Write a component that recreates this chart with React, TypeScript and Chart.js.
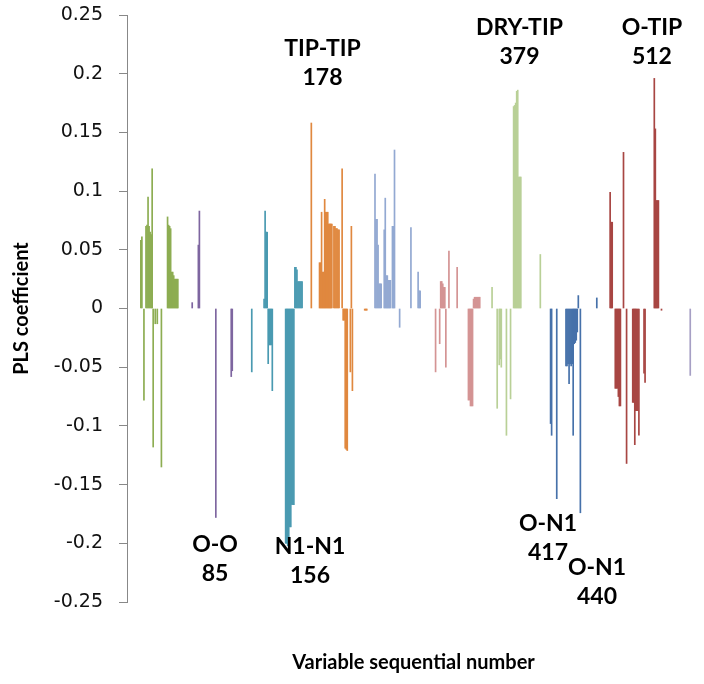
import React, { useEffect, useRef } from "react";
import { Chart, registerables } from "chart.js";

Chart.register(...registerables);

// ---- Y axis tick labels ----
const yTicks = [0.25, 0.2, 0.15, 0.1, 0.05, 0, -0.05, -0.1, -0.15, -0.2, -0.25];

// ---- Series: variable numbers and PLS coefficients per GRIND block ----
const dryDryVars = [12, 13, 15, 17, 18, 19, 20, 21, 22, 23, 24, 26, 28, 32, 38, 39, 40, 41, 42, 43, 44, 45, 46, 47, 48];
const dryDryCoefs = [0.058, 0.061, -0.078, 0.07, 0.071, 0.095, 0.07, 0.065, 0.063, 0.119, -0.118, -0.013, -0.013, -0.135, 0.078, 0.071, 0.07, 0.068, 0.031, 0.031, 0.028, 0.025, 0.025, 0.025, 0.025];

const ooVars = [62, 68, 69, 85, 100, 101];
const ooCoefs = [0.005, 0.054, 0.083, -0.178, -0.058, -0.053];

const n1n1Vars = [120, 132, 133, 134, 135, 136, 137, 138, 139, 140, 153, 154, 155, 156, 157, 158, 159, 160, 161, 162, 163, 164, 165, 166, 167, 168, 169];
const n1n1Coefs = [-0.054, 0.008, 0.083, 0.065, 0.065, -0.047, -0.031, -0.031, -0.031, -0.07, -0.2, -0.2, -0.202, -0.203, -0.186, -0.186, -0.167, -0.167, -0.167, 0.035, 0.035, 0.033, 0.023, 0.023, 0.023, 0.023, 0.023];

const tipTipVars = [178, 186, 187, 188, 189, 190, 191, 192, 193, 194, 195, 196, 197, 198, 200, 201, 202, 203, 204, 205, 208, 209, 210, 211, 212, 213, 216, 217, 218, 230, 231, 232];
const tipTipCoefs = [0.158, 0.039, 0.039, 0.082, 0.031, 0.031, 0.093, 0.082, 0.082, 0.082, 0.072, 0.072, 0.072, 0.072, 0.07, 0.07, 0.068, 0.068, 0.067, 0.067, 0.119, -0.01, -0.01, -0.119, -0.12, -0.121, -0.054, 0.07, -0.07, -0.0015, -0.0015, -0.0015];

const dryOVars = [240, 241, 242, 243, 244, 245, 246, 249, 250, 251, 252, 253, 254, 255, 257, 258, 259, 264, 275, 282, 283, 284];
const dryOCoefs = [0.1145, 0.076, 0.076, 0.054, 0.021, 0.021, 0.021, 0.067, 0.094, 0.028, 0.028, 0.024, 0.024, 0.024, 0.07, 0.07, 0.135, -0.016, 0.069, 0.031, 0.015, 0.015];

const dryN1Vars = [299, 303, 304, 305, 306, 307, 308, 309, 312, 320, 331, 332, 333, 334, 335, 336, 337, 338, 339, 340, 341, 342];
const dryN1Coefs = [-0.054, -0.03, 0.023, 0.023, 0.021, 0.018, 0.018, -0.05, 0.049, 0.035, -0.078, -0.078, -0.083, -0.083, -0.083, 0.008, 0.0096, 0.0096, 0.0096, 0.0096, 0.0096, 0.0096];

const dryTipVars = [354, 359, 361, 362, 363, 368, 372, 375, 376, 377, 378, 379, 380, 381, 382, 401];
const dryTipCoefs = [0.018, -0.085, -0.048, -0.043, -0.05, -0.108, -0.077, 0.172, 0.173, 0.175, 0.185, 0.186, 0.112, 0.112, 0.112, 0.046];

const oN1Vars = [411, 412, 417, 426, 427, 428, 429, 430, 431, 432, 433, 434, 435, 436, 437, 438, 440, 456];
const oN1Coefs = [-0.098, -0.108, -0.162, -0.049, -0.049, -0.047, -0.064, -0.047, -0.049, -0.047, -0.108, -0.03, -0.029, -0.027, -0.02, 0.011, -0.174, 0.009];

const oTipVars = [469, 470, 471, 474, 475, 476, 477, 478, 479, 482, 485, 491, 492, 493, 494, 495, 496, 497, 502, 503, 512, 513, 514, 515, 516, 519];
const oTipCoefs = [0.099, 0.0735, 0.0735, -0.068, -0.068, -0.068, -0.075, -0.083, -0.083, 0.133, -0.132, -0.08, -0.08, -0.116, -0.087, -0.087, -0.087, -0.108, -0.055, -0.063, 0.196, 0.153, 0.092, 0.092, 0.092, -0.0015];

const n1TipVars = [547];
const n1TipCoefs = [-0.057];

// ---- Block labels and colours ----
const blockNames = ["DRY-DRY", "O-O", "N1-N1", "TIP-TIP", "DRY-O", "DRY-N1", "DRY-TIP", "O-N1", "O-TIP", "N1-TIP"];
const blockColors = ["#8DAD52", "#7E66A0", "#4A9AB1", "#E0883F", "#93A9D2", "#D49494", "#B9D097", "#4671AA", "#A84643", "#A69FC4"];
const blockVars = [dryDryVars, ooVars, n1n1Vars, tipTipVars, dryOVars, dryN1Vars, dryTipVars, oN1Vars, oTipVars, n1TipVars];
const blockCoefs = [dryDryCoefs, ooCoefs, n1n1Coefs, tipTipCoefs, dryOCoefs, dryN1Coefs, dryTipCoefs, oN1Coefs, oTipCoefs, n1TipCoefs];

// ---- Annotated variables (text, number, anchor in data units) ----
const noteNames = ["TIP-TIP", "DRY-TIP", "O-TIP", "O-O", "N1-N1", "O-N1", "O-N1"];
const noteNumbers = ["178", "379", "512", "85", "156", "417", "440"];
const noteX = [188.9, 380.7, 509.7, 84.2, 176.7, 408.5, 456.2];
const noteY = [0.2217, 0.2396, 0.2396, -0.2008, -0.2025, -0.1829, -0.2204];

const noteFont = "bold 23px Lato";
const noteLineGap = 29;

const notesPlugin = {
  id: "notes",
  afterDatasetsDraw(chart: any) {
    const { ctx, scales } = chart;
    const xs = scales.x;
    const ys = scales.y;
    ctx.save();
    ctx.font = noteFont;
    ctx.fillStyle = "#000";
    ctx.textAlign = "center";
    ctx.textBaseline = "middle";
    for (let i = 0; i < noteNames.length; i++) {
      const px = xs.getPixelForValue(noteX[i]);
      const py = ys.getPixelForValue(noteY[i]);
      ctx.fillText(noteNames[i], px, py);
      ctx.fillText(noteNumbers[i], px, py + noteLineGap);
    }
    ctx.restore();
  },
};

export default function App() {
  const ref = useRef<HTMLCanvasElement | null>(null);

  useEffect(() => {
    if (!ref.current) return;
    const datasets = blockNames.map((name, b) => ({
      label: name,
      data: blockVars[b].map((v, i) => ({ x: v, y: blockCoefs[b][i] })),
      backgroundColor: blockColors[b],
      borderWidth: 0,
      barPercentage: 1,
      categoryPercentage: 1,
      grouped: false,
    }));

    const chart = new Chart(ref.current, {
      type: "bar",
      data: { datasets },
      options: {
        animation: false,
        responsive: false,
        maintainAspectRatio: false,
        devicePixelRatio: 1,
        events: [],
        layout: { padding: { left: 0, right: 4, top: 15, bottom: 0 } },
        plugins: {
          legend: { display: false },
          tooltip: { enabled: false },
          title: { display: false },
        },
        scales: {
          x: {
            type: "linear",
            min: -1.5,
            max: 556.5,
            offset: false,
            grid: { display: false, drawTicks: false, offset: false },
            border: { display: false },
            ticks: { display: false, stepSize: 100 },
            title: {
              display: true,
              text: "Variable sequential number",
              color: "#000",
              font: { family: "Lato", weight: "bold", size: 20, lineHeight: 1.2 },
              padding: { top: 49, bottom: 9 },
            },
          },
          y: {
            min: -0.25,
            max: 0.25,
            afterFit: (scale: any) => {
              scale.width = 127;
              scale.paddingTop = 0;
              scale.paddingBottom = 0;
            },
            afterBuildTicks: (scale: any) => {
              scale.ticks = yTicks.map((v) => ({ value: v }));
            },
            ticks: {
              padding: 16,
              color: "#111",
              font: { family: "DejaVu Sans", size: 19 },
              callback: (v: any) => String(Number(Number(v).toFixed(2))),
            },
            grid: {
              display: true,
              drawOnChartArea: false,
              drawTicks: true,
              tickLength: 8,
              color: "#888",
              lineWidth: 1,
            },
            border: { display: true, color: "#888", width: 1 },
            title: {
              display: true,
              text: "PLS coefficient",
              color: "#000",
              font: { family: "Lato", weight: "bold", size: 20, lineHeight: 1.2 },
              padding: { top: 10, bottom: 0 },
            },
          },
        },
      },
      plugins: [notesPlugin],
    });
    return () => chart.destroy();
  }, []);

  return (
    <div style={{ position: "absolute", left: 0, top: 0, width: 704, height: 684, background: "#fff" }}>
      <canvas ref={ref} width={704} height={684} style={{ display: "block" }} />
    </div>
  );
}
